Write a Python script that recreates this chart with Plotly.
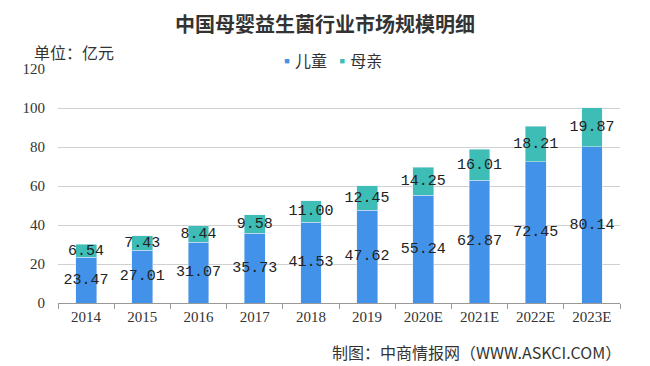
import plotly.graph_objects as go

years = ["2014", "2015", "2016", "2017", "2018", "2019", "2020E", "2021E", "2022E", "2023E"]
children = [23.47, 27.01, 31.07, 35.73, 41.53, 47.62, 55.24, 62.87, 72.45, 80.14]
mothers = [6.54, 7.43, 8.44, 9.58, 11.00, 12.45, 14.25, 16.01, 18.21, 19.87]
y_ticks = [0, 20, 40, 60, 80, 100, 120]

BLUE = "#4192E8"
TEAL = "#3DBDB5"
label_font = dict(family="Liberation Mono, DejaVu Sans Mono, monospace", size=15, color="#222")

fig = go.Figure()
fig.add_trace(go.Bar(x=years, y=children, name="儿童", marker_color=BLUE, hoverinfo="skip"))
fig.add_trace(go.Bar(x=years, y=mothers, name="母亲", marker_color=TEAL, hoverinfo="skip"))

# value labels at segment middles
fig.add_trace(go.Scatter(
    x=years, y=[c / 2 for c in children], mode="text",
    text=[f"{v:.2f}" for v in children], textposition="middle center",
    textfont=label_font, cliponaxis=False, hoverinfo="skip",
))
fig.add_trace(go.Scatter(
    x=years, y=[c + m / 2 for c, m in zip(children, mothers)], mode="text",
    text=[f"{v:.2f}" for v in mothers], textposition="middle center",
    textfont=label_font, cliponaxis=False, hoverinfo="skip",
))

fig.update_layout(
    width=650, height=366,
    barmode="stack", bargap=0.63,
    plot_bgcolor="white", paper_bgcolor="white",
    margin=dict(l=50, r=38, t=61, b=71),
    showlegend=False,
    font=dict(family="Noto Sans CJK SC"),
)
fig.update_xaxes(
    type="category", showline=True, linecolor="#999", linewidth=1,
    ticks="outside", tickson="boundaries", ticklen=5, tickcolor="#999",
    tickfont=dict(family="Liberation Serif, serif", size=15, color="#333"),
    showgrid=False,
)
fig.update_yaxes(
    range=[0, 120], tickvals=y_ticks, showgrid=True, gridcolor="#d0d0d0",
    zeroline=False, showline=False,
    tickfont=dict(family="Liberation Serif, serif", size=15, color="#333"),
    ticks="", ticklabelstandoff=12,
)

fig.add_annotation(text="<b>中国母婴益生菌行业市场规模明细</b>", xref="paper", yref="paper",
                   x=0.475, y=1.0, yshift=46, xanchor="center", yanchor="middle", showarrow=False,
                   font=dict(family="Noto Sans CJK SC", size=20, color="#333"))
fig.add_annotation(text="单位：亿元", xref="paper", yref="paper", x=0, xshift=-26, y=1.0, yshift=17,
                   xanchor="left", yanchor="middle", showarrow=False,
                   font=dict(family="Noto Sans CJK SC", size=16, color="#333"))
fig.add_annotation(
    text=f"<span style='color:{BLUE}'>▪</span>儿童&nbsp;&nbsp;<span style='color:{TEAL}'>▪</span>母亲",
    xref="paper", yref="paper", x=0, xshift=219, y=1.0, yshift=9,
    xanchor="left", yanchor="middle", showarrow=False,
    font=dict(family="Noto Sans CJK SC", size=16, color="#333"))
fig.add_annotation(text="制图：中商情报网（WWW.ASKCI.COM）", xref="paper", yref="paper",
                   x=1.0, xshift=3, y=0, yshift=-49, xanchor="right", yanchor="middle", showarrow=False,
                   font=dict(family="Noto Sans CJK SC", size=16, color="#333"))

fig.write_html("out.html")
